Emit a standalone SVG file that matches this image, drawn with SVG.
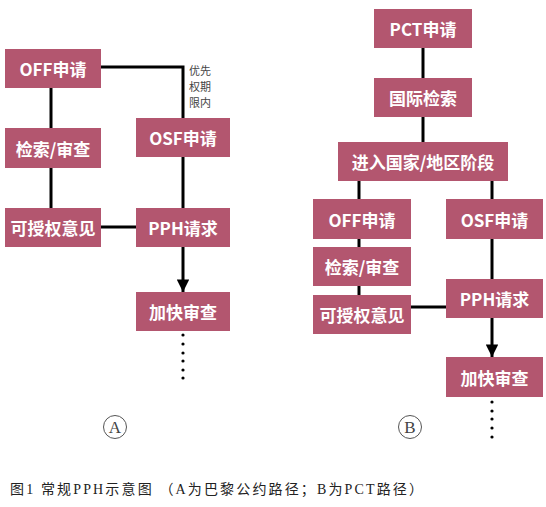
<svg xmlns="http://www.w3.org/2000/svg" width="546" height="507" viewBox="0 0 546 507">
<style>
.box{fill:#B3566F}
.t{font-family:"Noto Sans CJK SC","Noto Sans",sans-serif;font-size:17px;font-weight:bold;fill:#fff;text-anchor:middle;dominant-baseline:central}
.ln{stroke:#000;stroke-width:3;fill:none}
.note{font-family:"Noto Sans CJK SC",sans-serif;font-size:11px;fill:#444}
.cap{font-family:"Liberation Serif","Noto Sans CJK SC",serif;font-size:14px;fill:#222}
.circ{fill:none;stroke:#555;stroke-width:1}
.cl{font-family:"Liberation Serif",serif;font-size:17px;fill:#444;text-anchor:middle;dominant-baseline:central}
</style>
<defs>
<marker id="ah" viewBox="0 0 10 10" refX="10" refY="5" markerWidth="4.2" markerHeight="4.2" markerUnits="strokeWidth" orient="auto">
<path d="M0,0 L10,5 L0,10 z" fill="#000"/>
</marker>
</defs>
<rect width="546" height="507" fill="#fff"/>
<g id="connectors">
<polyline class="ln" points="101,67 183,67 183,118"/>
<line class="ln" x1="51" y1="88" x2="51" y2="208"/>
<line class="ln" x1="101" y1="227" x2="136" y2="227"/>
<line class="ln" x1="183" y1="157" x2="183" y2="208"/>
<line class="ln" x1="183" y1="247" x2="183" y2="292" marker-end="url(#ah)"/>
<line class="ln" x1="423" y1="48" x2="423" y2="78"/>
<line class="ln" x1="423" y1="117" x2="423" y2="142"/>
<line class="ln" x1="359" y1="181" x2="359" y2="295"/>
<line class="ln" x1="492" y1="181" x2="492" y2="279"/>
<line class="ln" x1="411" y1="307" x2="446" y2="307"/>
<line class="ln" x1="492" y1="318" x2="492" y2="357" marker-end="url(#ah)"/>
<g fill="#000">
<circle cx="183" cy="335" r="1.6"/><circle cx="183" cy="344" r="1.6"/><circle cx="183" cy="353" r="1.6"/><circle cx="183" cy="361" r="1.6"/><circle cx="183" cy="370" r="1.6"/><circle cx="183" cy="378" r="1.6"/>
<circle cx="492" cy="402" r="1.6"/><circle cx="492" cy="411" r="1.6"/><circle cx="492" cy="419" r="1.6"/><circle cx="492" cy="428" r="1.6"/><circle cx="492" cy="437" r="1.6"/>
</g>
<text class="note" x="189" y="75">优先</text>
<text class="note" x="189" y="91">权期</text>
<text class="note" x="189" y="107">限内</text>
</g>
<g id="a-off"><rect class="box" x="5" y="49" width="96" height="39"/><text class="t" x="53" y="68.5">OFF申请</text></g>
<g id="a-search"><rect class="box" x="5" y="128" width="96" height="40"/><text class="t" x="53" y="148">检索/审查</text></g>
<g id="a-osf"><rect class="box" x="136" y="118" width="94" height="39"/><text class="t" x="183" y="137.5">OSF申请</text></g>
<g id="a-grant"><rect class="box" x="5" y="208" width="96" height="39"/><text class="t" x="53" y="227.5">可授权意见</text></g>
<g id="a-pph"><rect class="box" x="136" y="208" width="94" height="39"/><text class="t" x="183" y="227.5">PPH请求</text></g>
<g id="a-fast"><rect class="box" x="136" y="292" width="94" height="39"/><text class="t" x="183" y="311.5">加快审查</text></g>
<g id="b-pct"><rect class="box" x="374" y="9" width="98" height="39"/><text class="t" x="423" y="28.5">PCT申请</text></g>
<g id="b-isr"><rect class="box" x="374" y="78" width="98" height="39"/><text class="t" x="423" y="97.5">国际检索</text></g>
<g id="b-entry"><rect class="box" x="338" y="142" width="170" height="39"/><text class="t" x="423" y="161.5">进入国家/地区阶段</text></g>
<g id="b-off"><rect class="box" x="313" y="199" width="98" height="40"/><text class="t" x="362" y="219">OFF申请</text></g>
<g id="b-osf"><rect class="box" x="446" y="199" width="97" height="40"/><text class="t" x="494.5" y="219">OSF申请</text></g>
<g id="b-search"><rect class="box" x="313" y="247" width="98" height="39"/><text class="t" x="362" y="266.5">检索/审查</text></g>
<g id="b-grant"><rect class="box" x="313" y="295" width="98" height="39"/><text class="t" x="362" y="314.5">可授权意见</text></g>
<g id="b-pph"><rect class="box" x="446" y="279" width="97" height="39"/><text class="t" x="494.5" y="298.5">PPH请求</text></g>
<g id="b-fast"><rect class="box" x="446" y="357" width="97" height="40"/><text class="t" x="494.5" y="377">加快审查</text></g>
<g id="label-a"><circle class="circ" cx="115" cy="427" r="11.5"/><text class="cl" x="115" y="427">A</text></g>
<g id="label-b"><circle class="circ" cx="410" cy="427" r="11.5"/><text class="cl" x="410" y="427">B</text></g>
<text class="cap" x="10" y="494" textLength="413" lengthAdjust="spacing">图1 常规PPH示意图 （A为巴黎公约路径；B为PCT路径）</text>
</svg>
